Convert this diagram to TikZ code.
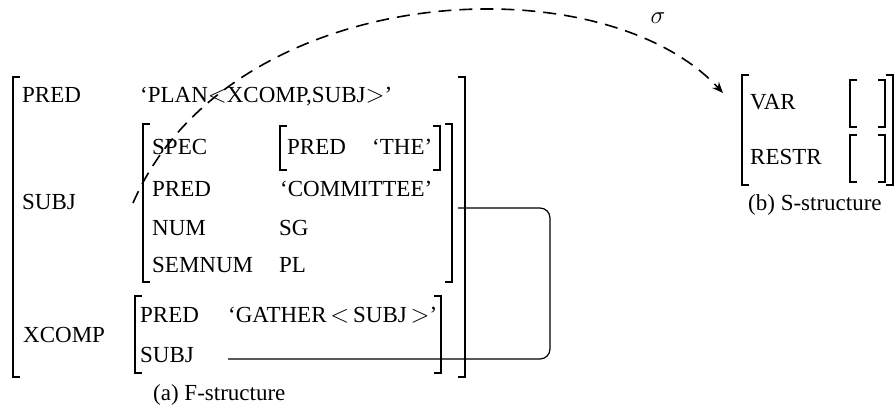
\documentclass[tikz,border=0pt]{standalone}
\usepackage{fontspec}
\setmainfont{Liberation Serif}
\usetikzlibrary{arrows.meta}

\newcommand\attrfont{\fontsize{23}{27}\selectfont}
\newcommand\lt{\,$<$\,}
\newcommand\gt{\,$>$}
% left / right square brackets of an attribute-value matrix: x, top, bottom
\newcommand\leftbrk[4][brk]{\draw[#1] (#2+7,#3) -- (#2,#3) -- (#2,#4) -- (#2+7,#4);}
\newcommand\rightbrk[4][brk]{\draw[#1] (#2-7,#3) -- (#2,#3) -- (#2,#4) -- (#2-7,#4);}

\tikzset{
  lbl/.style={anchor=base west, inner sep=0pt, font=\attrfont},
  brk/.style={line width=1.6pt},
  thinbrk/.style={line width=1.2pt},
  link/.style={line width=1.2pt, rounded corners=10pt},
  mapping/.style={line width=1.6pt, dash pattern=on 13pt off 8pt,
    -{Stealth[length=11pt,width=9pt]}},
}

\begin{document}
\begin{tikzpicture}[x=1pt, y=-1pt]
\fill[white] (0,0) rectangle (896,411);
\useasboundingbox (0,0) rectangle (896,411);

% ---- F-structure ----
\leftbrk{13}{77}{377}
\rightbrk{465}{77}{377}
\node[lbl] (fpred)  at (22,103)  {PRED};
\node[lbl] (fpredv) at (140,103) {‘PLAN$<$XCOMP,SUBJ$>$’};
\node[lbl] (fsubj)  at (22,210)  {SUBJ};

% SUBJ value
\leftbrk{143}{124}{282}
\rightbrk{452}{124}{282}
\node[lbl] (spec)    at (152,155) {SPEC};
\leftbrk[thinbrk]{280}{126}{170}
\rightbrk[thinbrk]{440}{126}{170}
\node[lbl] (thepred) at (287,155) {PRED};
\node[lbl] (thev)    at (372,155) {‘THE’};
\node[lbl] (spred)   at (152,197) {PRED};
\node[lbl] (spredv)  at (280,197) {‘COMMITTEE’};
\node[lbl] (num)     at (152,236) {NUM};
\node[lbl] (numv)    at (279,236) {SG};
\node[lbl] (semnum)  at (152,273) {SEMNUM};
\node[lbl] (semnumv) at (279,273) {PL};

% XCOMP value
\node[lbl] (fxcomp) at (23,342) {XCOMP};
\leftbrk{135}{296}{373}
\rightbrk{441}{296}{373}
\node[lbl] (xpred)  at (140,323) {PRED};
\node[lbl] (xpredv) at (228,323) {‘GATHER\lt SUBJ\gt’};
\node[lbl] (xsubj)  at (140,362) {SUBJ};

\node[lbl] (capa) at (153,400) {(a) F-structure};

% structure sharing between SUBJ and XCOMP SUBJ
\coordinate (subjend)  at (458,208);
\coordinate (xsubjend) at (228,359);
\draw[link] (subjend) -- (550,208) -- (550,359) -- (xsubjend);

% ---- S-structure ----
\leftbrk{742}{75}{185}
\rightbrk{893}{75}{185}
\node[lbl] (var)   at (750,110) {VAR};
\node[lbl] (restr) at (750,165) {RESTR};
\leftbrk[thinbrk]{850}{80}{127}
\rightbrk[thinbrk]{885}{80}{127}
\leftbrk[thinbrk]{850}{135}{182}
\rightbrk[thinbrk]{885}{135}{182}
\node[lbl] (capb) at (748,211) {(b) S-structure};

% sigma projection
\coordinate (mapfrom) at (133,203);
\coordinate (mapto)   at (723,93);
\draw[mapping] (mapfrom) .. controls (230,-20) and (600,-40) .. (mapto);
\node[font=\attrfont, inner sep=0pt] (sigma) at (658,18) {$\sigma$};
\end{tikzpicture}
\end{document}
